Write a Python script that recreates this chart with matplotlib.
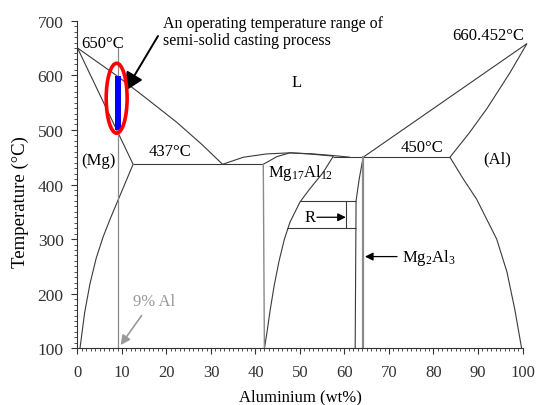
import matplotlib
matplotlib.use("Agg")
import matplotlib.pyplot as plt
from matplotlib.patches import Ellipse, Rectangle
from matplotlib.ticker import MultipleLocator

plt.rcParams['font.family'] = ['Liberation Serif', 'DejaVu Serif']
plt.rcParams['mathtext.fontset'] = 'custom'
plt.rcParams['mathtext.rm'] = 'Liberation Serif'
plt.rcParams['mathtext.it'] = 'Liberation Serif'
plt.rcParams['mathtext.default'] = 'rm'

# ---- data (wt% Al, degC) ----
mg_liq_x = [0, 8.7, 14.8, 22.3, 28.0, 32.6]
mg_liq_T = [650, 600, 562, 514, 473, 437]
mg_sol_x = [0, 12.5]
mg_sol_T = [650, 437]
mg_solvus_x = [12.5, 11.0, 9.3, 7.5, 5.8, 4.2, 2.8, 1.6, 0.56]
mg_solvus_T = [437, 408, 375, 340, 305, 265, 218, 165, 100]
eut1_x = [12.5, 41.75]
eut1_T = [437, 437]
gam_liq_x = [32.6, 37.3, 42.5, 47.75, 53.0, 57.5, 61.2]
gam_liq_T = [437, 450, 456, 458, 456, 453, 450]
gam_top_x = [41.75, 44.8, 47.75, 52.0, 57.5]
gam_top_T = [437, 451, 458, 456, 452]
gam_left_x = [41.75, 42.0]
gam_left_T = [437, 100]
gam_right_x = [57.5, 55.2, 52.2, 50.0, 47.75, 46.5, 45.3, 44.2, 43.3, 42.5, 42.0]
gam_right_T = [452, 422, 392, 368, 331, 300, 260, 215, 170, 125, 100]
eut2_x = [57.5, 83.7]
eut2_T = [450, 450]
beta_left_x = [64.2, 63.3, 62.6, 62.4]
beta_left_T = [450, 410, 370, 100]
beta_right_x = [64.2, 64.2]
beta_right_T = [450, 100]
al_liq_x = [64.2, 101.0]
al_liq_T = [450, 658]
al_sol_x = [83.7, 88.0, 92.0, 95.0, 97.2, 101.0]
al_sol_T = [450, 494, 539, 577, 605, 658]
al_solvus_x = [83.7, 86.7, 89.7, 94.2, 96.5, 98.3, 99.8]
al_solvus_T = [450, 410, 373, 300, 240, 170, 100]
r_top_x = [50.0, 62.6]
r_top_T = [369, 369]
r_bot_x = [47.0, 62.5]
r_bot_T = [320, 320]
r_vert_x = [60.3, 60.3]
r_vert_T = [320, 369]
alloy_x = 9
alloy_T = [652, 100]
range_T = [500, 598]

x_ticks = [0, 10, 20, 30, 40, 50, 60, 70, 80, 90, 100]
y_ticks = [100, 200, 300, 400, 500, 600, 700]

fig = plt.figure(figsize=(5.37, 4.06), dpi=100)
ax = fig.add_axes([0.1443, 0.1396, 0.8287, 0.8070])

lc = '#3a3a3a'
lw = 0.8
for xs, ts in [(mg_liq_x, mg_liq_T), (mg_sol_x, mg_sol_T), (mg_solvus_x, mg_solvus_T),
               (eut1_x, eut1_T), (gam_liq_x, gam_liq_T), (gam_top_x, gam_top_T),
               (gam_right_x, gam_right_T), (eut2_x, eut2_T), (beta_left_x, beta_left_T),
               (al_liq_x, al_liq_T), (al_sol_x, al_sol_T), (al_solvus_x, al_solvus_T),
               (r_top_x, r_top_T), (r_bot_x, r_bot_T), (r_vert_x, r_vert_T)]:
    ax.plot(xs, ts, color=lc, lw=lw, clip_on=False, solid_capstyle='butt',
            solid_joinstyle='round')

ax.plot(gam_left_x, gam_left_T, color='#8a8a8a', lw=1.0)
ax.plot(beta_right_x, beta_right_T, color='#8a8a8a', lw=1.6)
ax.plot([alloy_x, alloy_x], alloy_T, color='#8a8a8a', lw=0.9)

# operating range
ax.add_patch(Rectangle((alloy_x - 0.68, range_T[0]), 1.36, range_T[1] - range_T[0],
                       facecolor='#0000ff', edgecolor='none', zorder=4))
ax.add_patch(Ellipse((alloy_x - 0.2, 558), 4.7, 128, facecolor='none', edgecolor='#ff0000',
                     lw=2.6, zorder=5))

ax.annotate('', xy=(10.7, 571), xytext=(18.1, 672),
            arrowprops=dict(arrowstyle='-|>', color='black', lw=1.4, mutation_scale=28,
                            shrinkA=0, shrinkB=0), annotation_clip=False)
ax.text(19.2, 711, 'An operating temperature range of\nsemi-solid casting process',
        ha='left', va='top', fontsize=11.5, linespacing=1.15, clip_on=False)

fs = 12
ax.text(5.6, 659, '650°C', ha='center', va='center', fontsize=fs)
ax.text(49.3, 588, 'L', ha='center', va='center', fontsize=fs)
ax.text(92.4, 674, '660.452°C', ha='center', va='center', fontsize=fs)
ax.text(20.8, 461, '437°C', ha='center', va='center', fontsize=fs)
ax.text(4.6, 445, '(Mg)', ha='center', va='center', fontsize=fs)
ax.text(77.5, 469, '450°C', ha='center', va='center', fontsize=fs)
ax.text(94.3, 448, '(Al)', ha='center', va='center', fontsize=fs)
ax.text(42.8, 423, r'Mg$_{17}$Al$_{12}$', ha='left', va='center', fontsize=fs)
ax.text(52.2, 340, 'R', ha='center', va='center', fontsize=fs)
ax.annotate('', xy=(60.3, 340), xytext=(53.8, 340),
            arrowprops=dict(arrowstyle='-|>', color='black', lw=0.9, mutation_scale=12,
                            shrinkA=0, shrinkB=0))
ax.text(72.9, 267, r'Mg$_2$Al$_3$', ha='left', va='center', fontsize=fs)
ax.annotate('', xy=(64.6, 268), xytext=(71.8, 268),
            arrowprops=dict(arrowstyle='-|>', color='black', lw=0.9, mutation_scale=12,
                            shrinkA=0, shrinkB=0))
ax.text(17.3, 187, '9% Al', ha='center', va='center', fontsize=fs, color='#999999')
ax.annotate('', xy=(9.7, 106), xytext=(14.4, 160),
            arrowprops=dict(arrowstyle='-|>', color='#999999', lw=1.2, mutation_scale=14,
                            shrinkA=0, shrinkB=0))

ax.set_xlim(0, 100)
ax.set_ylim(100, 700)
ax.set_xticks(x_ticks)
ax.set_yticks(y_ticks)
ax.xaxis.set_minor_locator(MultipleLocator(1))
ax.yaxis.set_minor_locator(MultipleLocator(10))
ax.tick_params(which='major', direction='out', length=4, width=0.8, labelsize=12, colors='#333333')
ax.tick_params(which='minor', direction='out', length=2.2, width=0.6, colors='#333333')
ax.tick_params(axis='x', which='major', pad=7)
ax.tick_params(axis='y', which='major', pad=6, labelsize=12.5)
for s in ['top', 'right']:
    ax.spines[s].set_visible(False)
for s in ['left', 'bottom']:
    ax.spines[s].set_color('#333333')
    ax.spines[s].set_linewidth(0.8)

ax.set_xlabel('Aluminium (wt%)', fontsize=12, labelpad=6)
ax.set_ylabel('Temperature (°C)', fontsize=13.5)
ax.yaxis.set_label_coords(-0.108, 0.45)

fig.savefig('out.png', dpi=100)
